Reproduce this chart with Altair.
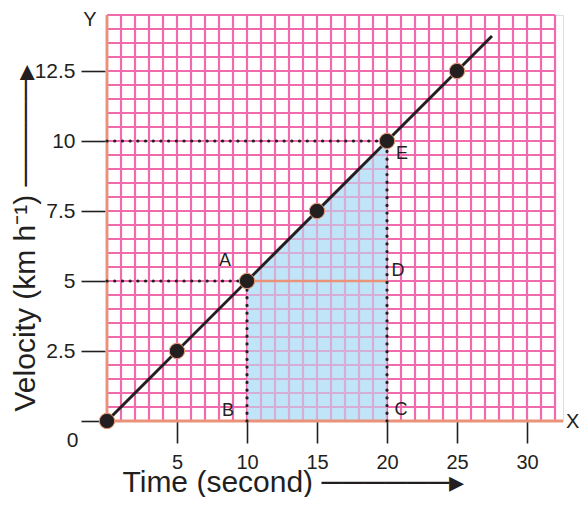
import altair as alt
import numpy as np
import pandas as pd

# ---- data ----
time_s = [0, 5, 10, 15, 20, 25]
velocity = [0, 2.5, 5, 7.5, 10, 12.5]
line_time = [0, 27.5]
line_velocity = [0, 13.75]
x_ticks = [5, 10, 15, 20, 25, 30]
y_ticks = [0, 2.5, 5, 7.5, 10, 12.5]
point_labels = ["A", "B", "C", "D", "E"]
label_time = [10, 10, 20, 20, 20]
label_velocity = [5, 0, 0, 5, 10]
grid_time_max = 32
grid_velocity_max = 14.5
x_domain = [0, 32.571]
y_domain = [0, 14.5]

INK = "#231f20"
PINK = "#f06aae"
SALMON = "#e9937a"
BLUE = "#c0e5f8"
FONT = "Liberation Sans"

xs = alt.Scale(domain=x_domain, nice=False, zero=False)
ys = alt.Scale(domain=y_domain, nice=False, zero=False)

x_axis = alt.Axis(
    values=x_ticks, tickSize=22, tickWidth=1.6, tickColor=INK, domain=False, grid=False,
    labelFont=FONT, labelFontSize=20, labelColor=INK, labelPadding=9,
    title="Time (second) \u2500\u2500\u2500\u2500\u2500\u2500\u25b8",
    titleFont=FONT, titleFontSize=30, titleFontWeight="normal", titleColor=INK,
    titleX=15, titleY=70, titleAlign="left", titleBaseline="alphabetic",
)
y_axis = alt.Axis(
    values=y_ticks, tickSize=24, tickWidth=1.6, tickColor=INK, domain=False, grid=False, offset=2,
    format=".3~g",
    labelFont=FONT, labelFontSize=21, labelColor=INK,
    labelPadding={"condition": {"test": "datum.value == 0", "value": 3}, "value": 6},
    labelOffset={"condition": {"test": "datum.value == 0", "value": 19}, "value": 0},
    title="Velocity (km h\u207b\u00b9) \u2500\u2500\u2500\u2500\u2500\u25b8",
    titleFont=FONT, titleFontSize=30, titleFontWeight="normal", titleColor=INK,
    titleAngle=270, titleX=-71, titleY=396, titleAlign="left", titleBaseline="alphabetic",
)

def X(field):
    return alt.X(field, type="quantitative", scale=xs, axis=x_axis)

def Y(field):
    return alt.Y(field, type="quantitative", scale=ys, axis=y_axis)

# points / line tables
pts = pd.DataFrame({"t": time_s, "v": velocity})
line_df = pd.DataFrame({"t": line_time, "v": line_velocity})

A = (time_s[2], velocity[2])
E = (time_s[4], velocity[4])

area_df = pd.DataFrame({"t": [A[0], E[0]], "v": [A[1], E[1]], "v0": [0, 0]})

# grid
gx = pd.DataFrame({"x": np.arange(0, grid_time_max + 1), "y": 0.0, "y2": grid_velocity_max})
gy = pd.DataFrame({"y": np.arange(0, grid_velocity_max + 0.25, 0.5), "x": 0.0, "x2": grid_time_max})

area_base = alt.Chart(area_df).mark_area(color=BLUE, opacity=1).encode(
    x=X("t"), y=Y("v"), y2=alt.Y2("v0"))
grid_v = alt.Chart(gx).mark_rule(color=PINK, strokeWidth=2.2).encode(
    x=X("x"), y=Y("y"), y2=alt.Y2("y2"))
grid_h = alt.Chart(gy).mark_rule(color=PINK, strokeWidth=2.2).encode(
    y=Y("y"), x=X("x"), x2=alt.X2("x2"))
area_top = alt.Chart(area_df).mark_area(color=BLUE, opacity=0.55).encode(
    x=X("t"), y=Y("v"), y2=alt.Y2("v0"))

axes_df = pd.DataFrame({"x": [0.0, 0.0], "x2": [x_domain[1], 0.0], "y": [0.0, 0.0], "y2": [0.0, y_domain[1]]})
axis_lines = alt.Chart(axes_df).mark_rule(color=SALMON, strokeWidth=2.8).encode(
    x=X("x"), x2=alt.X2("x2"), y=Y("y"), y2=alt.Y2("y2"))

ad_df = pd.DataFrame({"x": [A[0]], "x2": [E[0]], "y": [A[1]]})
ad_line = alt.Chart(ad_df).mark_rule(color=SALMON, strokeWidth=2.6).encode(
    x=X("x"), x2=alt.X2("x2"), y=Y("y"))

dot_df = pd.DataFrame({
    "x": [0, 0, A[0], E[0]],
    "x2": [E[0], A[0], A[0], E[0]],
    "y": [E[1], A[1], 0, 0],
    "y2": [E[1], A[1], A[1], E[1]],
})
dotted = alt.Chart(dot_df).mark_rule(color=INK, strokeWidth=3.2, strokeDash=[0.1, 7.6], strokeCap="round").encode(
    x=X("x"), x2=alt.X2("x2"), y=Y("y"), y2=alt.Y2("y2"))

main_line = alt.Chart(line_df).mark_line(color=INK, strokeWidth=3).encode(x=X("t"), y=Y("v"))
points = alt.Chart(pts).mark_circle(size=235, color=INK, opacity=1, stroke="#e8956f", strokeWidth=1).encode(
    x=X("t"), y=Y("v"))

offsets = {"A": (-22, -20), "B": (-19, -10), "C": (14, -11), "D": (11, -10), "E": (15, 13)}
lab_df = pd.DataFrame({"lab": point_labels, "t": label_time, "v": label_velocity})
label_layers = []
for name, (dx, dy) in offsets.items():
    label_layers.append(
        alt.Chart(lab_df[lab_df["lab"] == name]).mark_text(
            font=FONT, fontSize=18, color=INK, dx=dx, dy=dy, align="center", baseline="middle"
        ).encode(x=X("t"), y=Y("v"), text="lab:N")
    )

xy_df = pd.DataFrame({"lab": ["Y", "X"], "t": [0.0, x_domain[1]], "v": [y_domain[1], 0.0]})
y_letter = alt.Chart(xy_df[xy_df["lab"] == "Y"]).mark_text(
    font=FONT, fontSize=20, color=INK, dx=-17, dy=5, baseline="middle").encode(x=X("t"), y=Y("v"), text="lab:N")
x_letter = alt.Chart(xy_df[xy_df["lab"] == "X"]).mark_text(
    font=FONT, fontSize=20, color=INK, dx=3, dy=1, align="left", baseline="middle").encode(x=X("t"), y=Y("v"), text="lab:N")

chart = alt.layer(
    area_base, grid_v, grid_h, area_top, axis_lines, ad_line, dotted, main_line, points,
    *label_layers, y_letter, x_letter,
).properties(
    width=456, height=406,
    autosize=alt.AutoSizeParams(type="none"),
    padding={"left": 99, "top": 7, "right": 17, "bottom": 76},
).configure_view(stroke=None).configure(background="white")

chart.save("out.html", embed_options={"renderer": "svg", "actions": False})
